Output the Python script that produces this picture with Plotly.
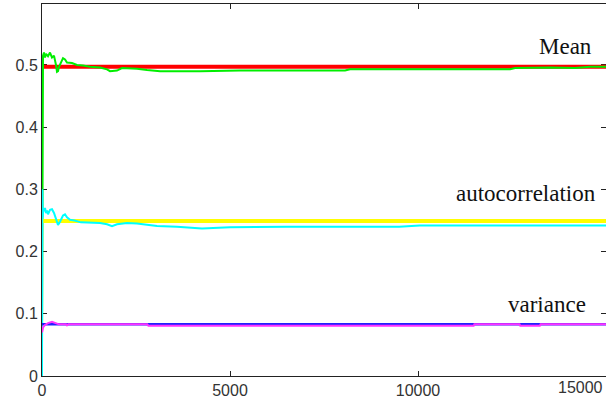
import plotly.graph_objects as go

# ---- data ----
mean_theory = 0.497
autocorr_theory = 0.249
variance_theory = 0.0833
x_theory = [0, 15000]

mean_x = [0, 27, 53, 80, 106, 160, 213, 266, 319, 346, 372, 399, 426, 452, 505, 559,
          612, 665, 798, 931, 1090, 1277, 1543, 1729, 1809, 1995, 2128, 2527, 2793,
          3139, 4203, 5267, 6863, 8060, 8193, 9523, 11119, 12449, 12582, 13513,
          14178, 14577, 15000]
mean_emp = [0.05, 0.515, 0.52, 0.512, 0.518, 0.514, 0.52, 0.512, 0.515, 0.508, 0.50,
            0.489, 0.49, 0.497, 0.505, 0.511, 0.509, 0.504, 0.503, 0.50, 0.499, 0.497,
            0.496, 0.493, 0.490, 0.491, 0.495, 0.494, 0.492, 0.490, 0.490, 0.491,
            0.491, 0.491, 0.493, 0.493, 0.492, 0.493, 0.495, 0.496, 0.495, 0.497,
            0.497]

ac_x = [0, 8, 20, 35, 53, 80, 106, 133, 160, 213, 266, 319, 372, 426, 479, 559, 612,
        665, 745, 865, 1037, 1277, 1543, 1729, 1862, 1995, 2261, 2527, 2793, 3059,
        3591, 4256, 5000, 6500, 9500, 10050, 12000, 15000]
ac_emp = [0.0, 0.30, 0.255, 0.27, 0.265, 0.27, 0.262, 0.266, 0.26, 0.267, 0.268,
          0.262, 0.252, 0.243, 0.248, 0.258, 0.26, 0.255, 0.251, 0.25, 0.247, 0.247,
          0.246, 0.244, 0.241, 0.244, 0.246, 0.245, 0.243, 0.241, 0.240, 0.237,
          0.239, 0.240, 0.240, 0.242, 0.242, 0.242]

var_x = [0, 27, 80, 160, 266, 346, 452, 640, 665, 700, 2800, 2830, 11480, 11500,
         12700, 12720, 13240, 13260, 15000]
var_emp = [0.070, 0.078, 0.082, 0.085, 0.087, 0.085, 0.083, 0.0833, 0.0815, 0.0833,
           0.0833, 0.0806, 0.0806, 0.0833, 0.0833, 0.0806, 0.0806, 0.0833, 0.0833]

x_ticks = [0, 5000, 10000, 15000]
x_ticktext = ["0", "5000", "10000", ""]
y_ticks = [0, 0.1, 0.2, 0.3, 0.4, 0.5]
y_ticktext = ["0", "0.1", "0.2", "0.3", "0.4", "0.5"]

fig = go.Figure()
fig.add_trace(go.Scatter(x=x_theory, y=[mean_theory] * 2, mode="lines",
                         line=dict(color="#ff0000", width=4)))
fig.add_trace(go.Scatter(x=mean_x, y=mean_emp, mode="lines",
                         line=dict(color="#00ee00", width=2)))
fig.add_trace(go.Scatter(x=x_theory, y=[autocorr_theory] * 2, mode="lines",
                         line=dict(color="#ffff00", width=4)))
fig.add_trace(go.Scatter(x=ac_x, y=ac_emp, mode="lines",
                         line=dict(color="#00ffff", width=2)))
fig.add_trace(go.Scatter(x=x_theory, y=[variance_theory] * 2, mode="lines",
                         line=dict(color="#2020ff", width=2.5)))
fig.add_trace(go.Scatter(x=var_x, y=var_emp, mode="lines",
                         line=dict(color="#ff33ff", width=2)))

serif = "Liberation Serif, Times New Roman, serif"
sans = "Liberation Sans, Arial, sans-serif"
ann = [
    dict(x=13910, y=0.530, text="Mean"),
    dict(x=12872, y=0.294, text="autocorrelation"),
    dict(x=13431, y=0.1157, text="variance"),
]
annotations = [dict(x=a["x"], y=a["y"], text=a["text"], xref="x", yref="y",
                    showarrow=False, font=dict(family=serif, size=23, color="#111"),
                    xanchor="center", yanchor="middle") for a in ann]
annotations.append(dict(x=(580 - 42) / 564, y=0, xref="paper", yref="paper",
                        text="15000", showarrow=False, yanchor="top", xanchor="center",
                        yshift=-2, borderpad=0,
                        font=dict(family=sans, size=16, color="#333")))

axis_common = dict(showline=True, linecolor="#222", linewidth=1, mirror="ticks",
                   ticks="inside", ticklen=5, tickcolor="#222", tickwidth=1,
                   showgrid=False, zeroline=False, layer="below traces",
                   tickfont=dict(family=sans, size=16, color="#333"))

fig.update_layout(
    width=606, height=398,
    margin=dict(l=42, r=0, t=4, b=22, pad=0),
    paper_bgcolor="white", plot_bgcolor="white",
    showlegend=False, hovermode=False,
    annotations=annotations,
    xaxis=dict(range=[0, 15000], tickvals=x_ticks, ticktext=x_ticktext, **axis_common),
    yaxis=dict(range=[0, 0.598], tickvals=y_ticks, ticktext=y_ticktext, **axis_common),
)

fig.write_html("out.html")
